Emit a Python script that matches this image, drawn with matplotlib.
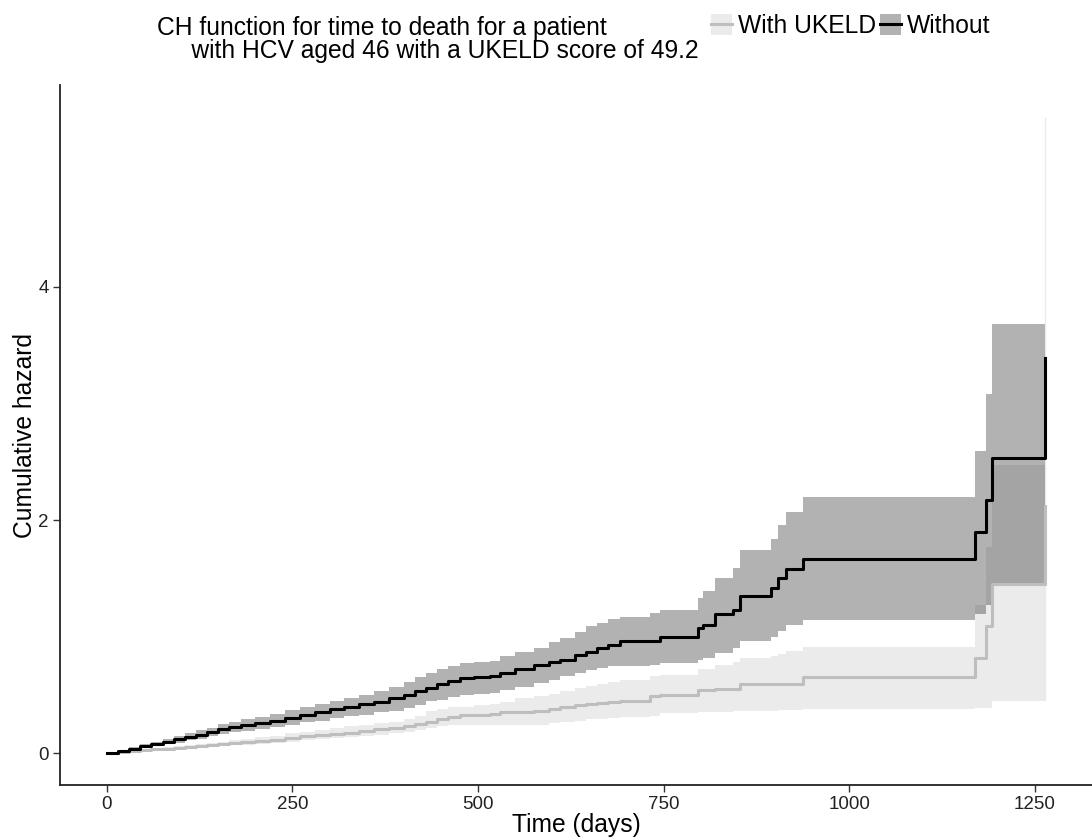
import matplotlib
matplotlib.use("Agg")
import matplotlib.pyplot as plt
from matplotlib.patches import Patch
from matplotlib.lines import Line2D
import numpy as np

plt.rcParams['font.family'] = ['Liberation Sans', 'DejaVu Sans']

# ---- data ----
time_days = [0, 15, 30, 45, 60, 75, 90, 105, 120, 135, 150, 165, 180, 200, 220, 240,
             260, 280, 300, 320, 340, 360, 380, 400, 415, 430, 445, 460, 476, 495, 516,
             530, 550, 575, 595, 611, 630, 645, 660, 675, 691, 732, 745, 797, 803, 819,
             844, 853, 895, 904, 915, 938, 1169, 1184, 1193, 1264]

ch_without = [0, 0.02, 0.04, 0.06, 0.08, 0.10, 0.12, 0.14, 0.16, 0.185, 0.21, 0.225,
              0.24, 0.255, 0.275, 0.30, 0.33, 0.35, 0.38, 0.40, 0.42, 0.44, 0.47, 0.50,
              0.53, 0.56, 0.59, 0.62, 0.645, 0.655, 0.66, 0.69, 0.72, 0.76, 0.78, 0.80,
              0.84, 0.87, 0.90, 0.93, 0.96, 0.96, 1.00, 1.07, 1.10, 1.19, 1.23, 1.345,
              1.415, 1.50, 1.58, 1.67, 1.90, 2.17, 2.53, 3.39]
upper_without = [0, 0.025, 0.05, 0.075, 0.10, 0.12, 0.145, 0.17, 0.195, 0.22, 0.25, 0.27,
                 0.29, 0.31, 0.34, 0.37, 0.40, 0.42, 0.45, 0.47, 0.50, 0.53, 0.57, 0.61,
                 0.65, 0.69, 0.72, 0.75, 0.77, 0.785, 0.79, 0.83, 0.87, 0.90, 0.95, 0.985,
                 1.04, 1.09, 1.12, 1.15, 1.17, 1.20, 1.23, 1.33, 1.39, 1.50, 1.59, 1.745,
                 1.84, 1.96, 2.07, 2.20, 2.59, 3.08, 3.68, 3.68]
lower_without = [0, 0.015, 0.03, 0.045, 0.06, 0.075, 0.09, 0.11, 0.125, 0.145, 0.165, 0.18,
                 0.19, 0.21, 0.225, 0.245, 0.265, 0.28, 0.30, 0.315, 0.33, 0.35, 0.36, 0.39,
                 0.41, 0.445, 0.46, 0.48, 0.50, 0.51, 0.52, 0.54, 0.57, 0.60, 0.63, 0.66,
                 0.69, 0.71, 0.73, 0.745, 0.75, 0.76, 0.77, 0.80, 0.82, 0.86, 0.90, 0.96,
                 1.00, 1.045, 1.10, 1.145, 1.19, 1.27, 1.445, 1.445]

ch_with = [0, 0.008, 0.016, 0.024, 0.032, 0.04, 0.048, 0.056, 0.064, 0.072, 0.08, 0.088,
           0.096, 0.105, 0.115, 0.13, 0.145, 0.155, 0.165, 0.175, 0.19, 0.205, 0.22, 0.235,
           0.25, 0.27, 0.29, 0.31, 0.325, 0.33, 0.34, 0.35, 0.355, 0.36, 0.38, 0.40, 0.41,
           0.42, 0.43, 0.44, 0.45, 0.49, 0.50, 0.54, 0.54, 0.55, 0.55, 0.59, 0.59, 0.59,
           0.59, 0.655, 0.82, 1.09, 1.45, 2.12]
upper_with = [0, 0.01, 0.02, 0.03, 0.04, 0.05, 0.06, 0.07, 0.08, 0.09, 0.10, 0.11, 0.12,
              0.135, 0.15, 0.17, 0.185, 0.20, 0.215, 0.23, 0.245, 0.26, 0.27, 0.29, 0.32,
              0.36, 0.38, 0.395, 0.40, 0.41, 0.42, 0.44, 0.47, 0.49, 0.51, 0.53, 0.56, 0.58,
              0.59, 0.61, 0.63, 0.66, 0.675, 0.72, 0.72, 0.76, 0.78, 0.815, 0.83, 0.85, 0.88,
              0.915, 1.27, 1.77, 2.47, 5.46]
lower_with = [0, 0.006, 0.012, 0.018, 0.024, 0.03, 0.036, 0.042, 0.048, 0.054, 0.06, 0.066,
              0.072, 0.08, 0.09, 0.10, 0.11, 0.12, 0.13, 0.14, 0.15, 0.16, 0.17, 0.18, 0.195,
              0.22, 0.23, 0.24, 0.245, 0.245, 0.245, 0.245, 0.245, 0.245, 0.26, 0.27, 0.28,
              0.29, 0.295, 0.30, 0.31, 0.32, 0.345, 0.35, 0.35, 0.355, 0.36, 0.36, 0.365,
              0.37, 0.37, 0.38, 0.39, 0.39, 0.445, 0.445]

series_labels = ["With UKELD", "Without"]
x_ticks = [0, 250, 500, 750, 1000, 1250]
y_ticks = [0, 2, 4]
legend_title = ("CH function for time to death for a patient\n"
                "     with HCV aged 46 with a UKELD score of 49.2")

# ---- styling ----
col_with = "#BEBEBE"
col_without = "black"
ribbon_alpha = 0.3
fs = 17.7

fig = plt.figure(figsize=(10.92, 8.38), dpi=100)
ax = fig.add_axes([60 / 1092, 53 / 838, 1032 / 1092, 700 / 838])

t = np.array(time_days)

ax.fill_between(t, lower_with, upper_with, step="post", color=col_with,
                alpha=ribbon_alpha, linewidth=0)
ax.vlines(t[-1], lower_with[-1], upper_with[-1], color=col_with, alpha=ribbon_alpha, lw=1)
ax.step(t, ch_with, where="post", color=col_with, lw=2.2)
ax.fill_between(t, lower_without, upper_without, step="post", color=col_without,
                alpha=ribbon_alpha, linewidth=0)
ax.step(t, ch_without, where="post", color=col_without, lw=2.2)

ax.margins(x=0.05, y=0.05)
ax.set_xticks(x_ticks)
ax.set_yticks(y_ticks)
ax.tick_params(axis="both", labelsize=13.5, labelcolor="#222222", color="#333333",
               length=5, width=1, pad=3)
for s in ["top", "right"]:
    ax.spines[s].set_visible(False)
for s in ["left", "bottom"]:
    ax.spines[s].set_color("#222222")
    ax.spines[s].set_linewidth(1.3)

ax.set_xlabel("Time (days)", fontsize=fs, labelpad=0)
ax.set_ylabel("Cumulative hazard", fontsize=fs, labelpad=1)

# legend with title on the left
fig.text(157 / 1092, 1 - 16 / 838, legend_title, ha="left", va="top",
         fontsize=fs, linespacing=0.95)
handles = [
    (Patch(facecolor=col_with, alpha=ribbon_alpha, edgecolor="none"),
     Line2D([], [], color=col_with, lw=2.2)),
    (Patch(facecolor=col_without, alpha=ribbon_alpha, edgecolor="none"),
     Line2D([], [], color=col_without, lw=2.2)),
]
fig.legend(handles, series_labels, loc="upper left",
           bbox_to_anchor=(711 / 1092, 1 - 14 / 838), ncol=2, frameon=False,
           fontsize=fs, handlelength=0.85, handleheight=0.95, handletextpad=0.25,
           columnspacing=0.15, borderpad=0, borderaxespad=0)

fig.savefig("out.png", dpi=100)
